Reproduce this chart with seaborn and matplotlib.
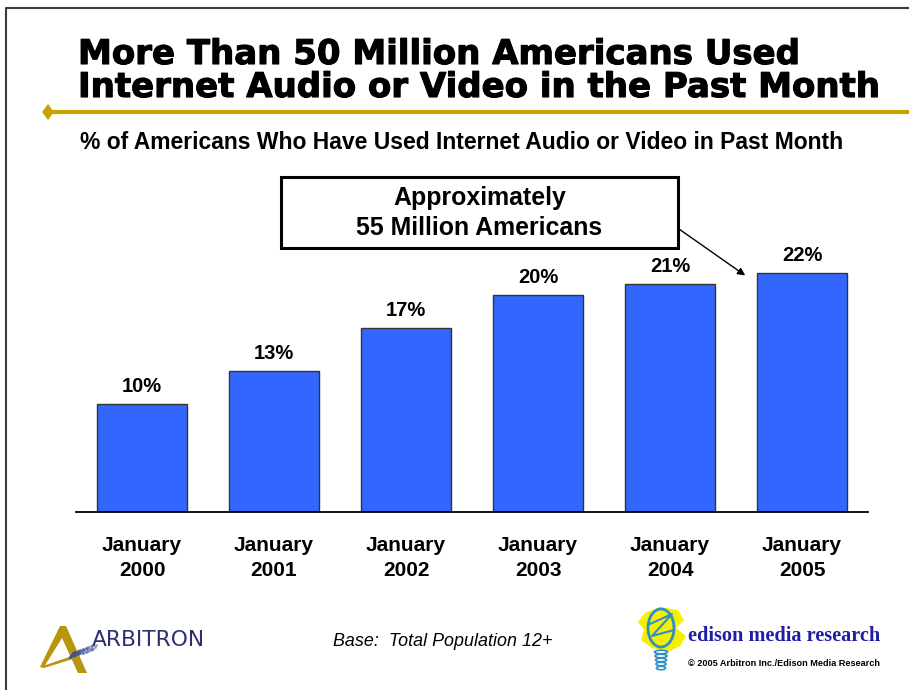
import numpy as np
import pandas as pd
import matplotlib
matplotlib.use("Agg")
import matplotlib.pyplot as plt
import matplotlib.patches as mpatches
import matplotlib.patheffects as pe
import seaborn as sns

# Survey results
years = ["2000", "2001", "2002", "2003", "2004", "2005"]
categories = ["January\n" + y for y in years]
share_pct = [10, 13, 17, 20, 21, 22]
value_labels = [f"{v}%" for v in share_pct]

title_lines = ["More Than 50 Million Americans Used",
               "Internet Audio or Video in the Past Month"]
subtitle = "% of Americans Who Have Used Internet Audio or Video in Past Month"
callout_lines = ["Approximately", "55 Million Americans"]
base_note = "Base:  Total Population 12+"

sns.set_theme(style="white")
plt.rcParams["font.family"] = ["Liberation Sans", "DejaVu Sans"]

W, H = 909, 690
fig = plt.figure(figsize=(W / 100, H / 100), dpi=100)
fig.patch.set_facecolor("white")
renderer = fig.canvas.get_renderer()


def fit_width(txt, target_px):
    """Scale a text's font size so that it spans target_px horizontally."""
    for _ in range(3):
        w = txt.get_window_extent(renderer).width
        txt.set_fontsize(txt.get_fontsize() * target_px / w)


# Background canvas in pixel units for slide decorations
bg = fig.add_axes([0, 0, 1, 1])
bg.set_xlim(0, W)
bg.set_ylim(H, 0)
bg.axis("off")

# Slide frame
bg.plot([6, 6, W + 5], [H + 5, 8, 8], color="#3a3a3a", lw=1.5, solid_capstyle="butt")

# Title
bold_fx = [pe.withStroke(linewidth=0.8, foreground="black")]
t1 = bg.text(78, 64, title_lines[0], fontsize=24, fontweight="bold", va="baseline", ha="left",
             color="black", family=["DejaVu Sans"], path_effects=bold_fx)
t2 = bg.text(78, 97, title_lines[1], fontsize=24, fontweight="bold", va="baseline", ha="left",
             color="black", family=["DejaVu Sans"], path_effects=bold_fx)
fit_width(t2, 802)
t1.set_fontsize(t2.get_fontsize())

# Gold rule with diamond
gold = "#C9A400"
bg.plot([48, W], [112, 112], color=gold, lw=3, solid_capstyle="butt")
bg.add_patch(mpatches.Polygon([[43, 112], [48, 105], [53, 112], [48, 119]], closed=True,
                              facecolor=gold, edgecolor=gold))

# Subtitle
st = bg.text(80, 149, subtitle, fontsize=16, fontweight="bold", va="baseline", ha="left",
             color="black")
fit_width(st, 762)

# Main bar chart
ax = fig.add_axes([76 / W, (H - 512) / H, (868 - 76) / W, 271.25 / H])
df = pd.DataFrame({"period": categories, "share": share_pct})
sns.barplot(data=df, x="period", y="share", ax=ax, color="#3366FF", saturation=1,
            width=0.675, edgecolor="#333333", linewidth=1)
ax.set_xlim(-0.5, len(categories) - 0.5)
ax.set_ylim(0, 25)
ax.set_xlabel("")
ax.set_ylabel("")
ax.set_yticks([])
ax.patch.set_alpha(0)
for s in ["left", "right", "top"]:
    ax.spines[s].set_visible(False)
ax.spines["bottom"].set_color("black")
ax.spines["bottom"].set_linewidth(1.3)
ax.tick_params(axis="x", length=0, pad=17)
for lab in ax.get_xticklabels():
    lab.set_fontsize(15)
    lab.set_fontweight("bold")
    lab.set_linespacing(1.4)
    lab.set_color("black")

for i, (v, t) in enumerate(zip(share_pct, value_labels)):
    ax.annotate(t, xy=(i, v), xytext=(0, 12.5), textcoords="offset points",
                ha="center", va="center", fontsize=14.5, fontweight="bold", color="black")

# Callout box and arrow
bg.add_patch(mpatches.Rectangle((281, 177), 397, 71, facecolor="white", edgecolor="black",
                                lw=2.2, zorder=5))
c1 = bg.text(479.5, 204.5, callout_lines[0], fontsize=17, fontweight="bold", ha="center",
             va="baseline", zorder=6, color="black")
c2 = bg.text(479.5, 235, callout_lines[1], fontsize=17, fontweight="bold", ha="center",
             va="baseline", zorder=6, color="black")
fit_width(c2, 246)
c1.set_fontsize(c2.get_fontsize())
ax.annotate("", xy=(4.57, 21.8), xycoords="data",
            xytext=(679, 229), textcoords=bg.transData,
            arrowprops=dict(arrowstyle="-|>", color="black", lw=1, mutation_scale=11,
                            shrinkA=0, shrinkB=0),
            annotation_clip=False)

# Footer note
bn = bg.text(333, 646, base_note, fontsize=12.8, fontstyle="italic", ha="left", va="baseline",
             color="black")
fit_width(bn, 218)

# Arbitron mark
navy = "#2E2F72"
agold = "#B8960C"
bg.add_patch(mpatches.Polygon([[40, 667], [60, 626], [66, 626], [87, 673], [78, 673], [62, 638],
                               [44, 667]], closed=True, facecolor=agold, edgecolor="none"))
bg.add_patch(mpatches.Polygon([[40, 667], [72, 656], [73, 659], [44, 668]], closed=True,
                              facecolor=agold, edgecolor="none"))
for k in range(10):
    for j in range(3):
        bg.plot(70 + k * 2.6 + j * 1.3, 657 - k * 0.9 - j * 2.2, marker="s", ms=1.1,
                color="#3B4B9A", alpha=0.8 - 0.05 * k)
ab = bg.text(92, 646, "ARBITRON", fontsize=12.5, color=navy, ha="left", va="baseline",
             family=["DejaVu Sans"])
fit_width(ab, 113)

# Edison mark
blob = [[645, 613], [660, 607], [678, 610], [684, 620], [676, 628], [686, 636], [680, 646],
        [668, 652], [652, 648], [641, 640], [644, 630], [638, 622]]
bg.add_patch(mpatches.Polygon(blob, closed=True, facecolor="#F5F000", edgecolor="none"))
bg.add_patch(mpatches.Ellipse((661, 628), 26, 38, facecolor="none", edgecolor="#2E8FC4", lw=2))
bg.plot([650, 672, 652, 674], [624, 614, 636, 630], color="#2E8FC4", lw=1.5)
for k in range(5):
    bg.add_patch(mpatches.Ellipse((661, 652 + k * 4), 13 - k, 3.5, facecolor="none",
                                  edgecolor="#2E8FC4", lw=1.2))
ed = bg.text(688, 641, "edison media research", fontsize=15, fontweight="bold",
             family=["Liberation Serif", "DejaVu Serif"], color="#1E1EA8", ha="left",
             va="baseline")
fit_width(ed, 192)
bg.text(880, 663, "\u00a9 2005 Arbitron Inc./Edison Media Research", fontsize=6.6,
        fontweight="bold", ha="right", va="center", color="black")

fig.savefig("out.png", dpi=100, facecolor="white")
